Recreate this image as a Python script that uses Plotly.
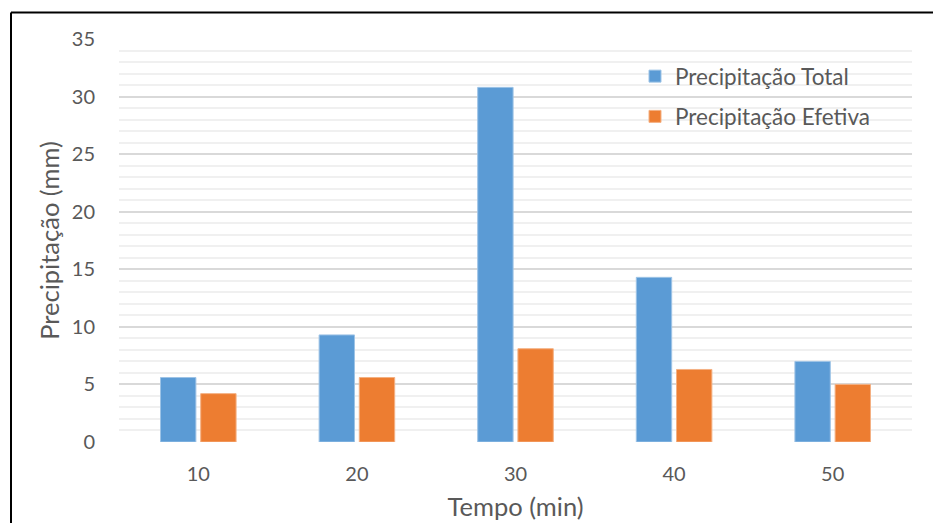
import plotly.graph_objects as go

# Rainfall per time interval
tempo = ["10", "20", "30", "40", "50"]
precip_total = [5.6, 9.3, 30.8, 14.3, 7.0]
precip_efetiva = [4.2, 5.6, 8.1, 6.3, 5.0]
y_ticks = [0, 5, 10, 15, 20, 25, 30, 35]

BLUE = "#5B9BD5"
ORANGE = "#ED7D31"
TEXT = "#595959"
FONT = "Lato"

W, H = 933, 523
L, R, T, B = 119, 21, 39, 81

fig = go.Figure()
fig.add_trace(go.Bar(
    x=tempo, y=precip_total, name="Precipitação Total",
    marker=dict(color=BLUE, line=dict(color="#9DC3E6", width=1)),
    legendgroup="a",
))
fig.add_trace(go.Bar(
    x=tempo, y=precip_efetiva, name="Precipitação Efetiva",
    marker=dict(color=ORANGE, line=dict(color="#F4B183", width=1)),
    legendgroup="b",
))

# Chart frame (left and top edges)
pw, ph = W - L - R, H - T - B
def px_x(px):
    return (px - L) / pw
def px_y(py):
    return (H - B - py) / ph

frame = dict(color="black", width=2)
fig.add_shape(type="line", xref="paper", yref="paper",
              x0=px_x(11), x1=px_x(W + 2), y0=px_y(12.5), y1=px_y(12.5), line=frame)
fig.add_shape(type="line", xref="paper", yref="paper",
              x0=px_x(11), x1=px_x(11), y0=px_y(12.5), y1=px_y(H + 2), line=frame)

fig.update_layout(
    width=W, height=H,
    margin=dict(l=L, r=R, t=T, b=B, pad=0, autoexpand=False),
    paper_bgcolor="white", plot_bgcolor="white",
    font=dict(family=FONT, color=TEXT, size=20),
    barmode="group", bargap=0.493, bargroupgap=0.12,
    showlegend=True,
    legend=dict(
        x=px_x(635), y=px_y(55), xanchor="left", yanchor="top",
        font=dict(size=22.5, color=TEXT), bgcolor="rgba(0,0,0,0)",
        tracegroupgap=8,
    ),
    xaxis=dict(
        type="category", showgrid=False, showline=False, ticks="",
        ticklabelstandoff=18, automargin=False,
        tickfont=dict(size=20, color=TEXT),
        title=dict(text="Tempo (min)", font=dict(size=25.5, color=TEXT), standoff=14),
    ),
    yaxis=dict(
        range=[0, 35], tickvals=y_ticks, showline=False, zeroline=False,
        gridcolor="#D9D9D9", gridwidth=1.5,
        minor=dict(dtick=1, showgrid=True, gridcolor="#F0F0F0", gridwidth=1.5),
        ticks="", ticklabelstandoff=23, automargin=False,
        tickfont=dict(size=20, color=TEXT),
        title=dict(text="Precipitação (mm)", font=dict(size=25.5, color=TEXT), standoff=4),
    ),
)

fig.write_html("out.html")
